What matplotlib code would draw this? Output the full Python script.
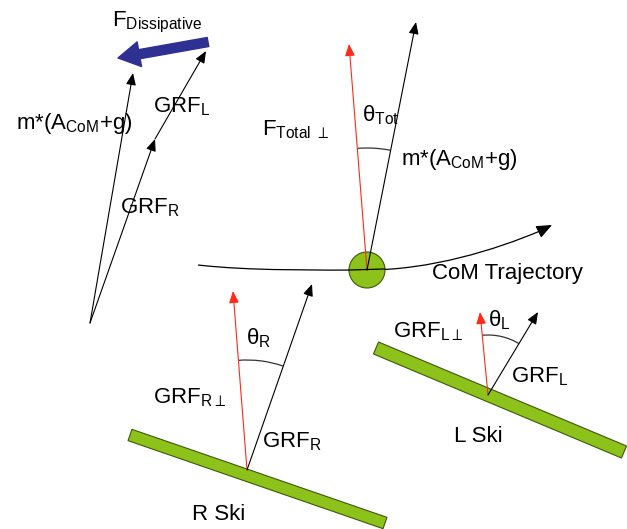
import numpy as np
import matplotlib.pyplot as plt
from matplotlib.patches import Polygon, Circle, Arc, PathPatch
from matplotlib.path import Path

plt.rcParams['font.family'] = ['Liberation Sans', 'DejaVu Sans']
plt.rcParams['mathtext.fontset'] = 'custom'
plt.rcParams['mathtext.rm'] = 'Liberation Sans'
plt.rcParams['mathtext.it'] = 'Liberation Sans'

# diagram geometry (pixel coordinates of the 627x529 picture, y down)
force_origin = (90, 323)
mg_tip_left = (133, 73)
grf_r_tip_left = (155, 139)
grf_l_tip_left = (206, 51)
dissip_tail = (208, 42)
dissip_head = (118, 58)

com_center = (367, 270)
com_radius = 18
total_perp_tip = (349, 44)
mg_tip_center = (416, 22)
# trajectory as two cubic bezier pieces: start, ctrl, ctrl, end, ctrl, ctrl, end
traj_pts = [(198, 265), (250, 271), (320, 270), (367, 270),
            (430, 270), (495, 250), (540, 231)]
traj_tip = (552, 225)

r_ski = [(130, 435), (385, 523)]
r_contact = (247, 470)
r_perp_tip = (233, 291)
r_grf_tip = (312, 284)

l_ski = [(376, 348), (624, 452)]
l_contact = (488, 395)
l_perp_tip = (480, 312)
l_grf_tip = (538, 312)

green = '#8cc21a'
red = '#ff2a1a'
blue = '#2e3192'

fig = plt.figure(figsize=(6.27, 5.29), dpi=100)
ax = fig.add_axes([0, 0, 1, 1])
ax.set_xlim(0, 627)
ax.set_ylim(529, 0)
ax.axis('off')


def arrow(p0, p1, color='k', lw=0.8, scale=12):
    ax.annotate('', xy=p1, xytext=p0,
                arrowprops=dict(arrowstyle='-|>,head_length=0.6,head_width=0.25',
                                color=color, lw=lw, shrinkA=0, shrinkB=0,
                                mutation_scale=scale))


def angle_arc(center, p_a, p_b, radius):
    a1 = np.degrees(np.arctan2(p_a[1] - center[1], p_a[0] - center[0]))
    a2 = np.degrees(np.arctan2(p_b[1] - center[1], p_b[0] - center[0]))
    lo, hi = sorted([a1, a2])
    ax.add_patch(Arc(center, 2 * radius, 2 * radius, theta1=lo, theta2=hi,
                     color='#333333', lw=0.9))


def ski(ends, width):
    (x0, y0), (x1, y1) = ends
    d = np.array([x1 - x0, y1 - y0], dtype=float)
    n = np.array([-d[1], d[0]]) / np.hypot(*d) * width / 2
    pts = [(x0 + n[0], y0 + n[1]), (x1 + n[0], y1 + n[1]),
           (x1 - n[0], y1 - n[1]), (x0 - n[0], y0 - n[1])]
    ax.add_patch(Polygon(pts, closed=True, fc=green, ec='#3d5a0a', lw=0.8, zorder=1))


fs = 16
mg_label = r'$\mathrm{m{*}(A_{CoM}{+}g)}$'

# top-left force triangle
arrow(force_origin, mg_tip_left)
arrow(force_origin, grf_r_tip_left)
arrow(grf_r_tip_left, grf_l_tip_left)
ax.annotate('', xy=dissip_head, xytext=dissip_tail,
            arrowprops=dict(arrowstyle='simple,head_length=1.3,head_width=1.5,tail_width=0.55',
                            color=blue, shrinkA=0, shrinkB=0, mutation_scale=12))

ax.text(112, 22, r'$\mathrm{F_{Dissipative}}$', fontsize=fs, va='center', ha='left')
ax.text(16, 123, mg_label, fontsize=fs, va='center', ha='left')
ax.text(153, 107, r'$\mathrm{GRF_L}$', fontsize=fs, va='center', ha='left')
ax.text(120, 208, r'$\mathrm{GRF_R}$', fontsize=fs, va='center', ha='left')

# CoM and trajectory
codes = [Path.MOVETO] + [Path.CURVE4] * 6
ax.add_patch(PathPatch(Path(traj_pts, codes), fc='none', ec='k', lw=0.9, zorder=2))
arrow(traj_pts[-1], traj_tip, scale=16)
ax.add_patch(Circle(com_center, com_radius, fc=green, ec='#3d5a0a', lw=0.8, zorder=3))
ax.plot([com_center[0] - com_radius, com_center[0] + com_radius],
        [com_center[1], com_center[1] - 1], color='k', lw=0.9, zorder=4)
arrow(com_center, total_perp_tip, color=red)
arrow(com_center, mg_tip_center)
angle_arc(com_center, total_perp_tip, mg_tip_center, 122)
ax.text(262, 130, r'$\mathrm{F_{Total\ \perp}}$', fontsize=fs, va='center', ha='left')
ax.text(362, 115, r'$\mathrm{\theta_{Tot}}$', fontsize=fs, va='center', ha='left')
ax.text(401, 160, mg_label, fontsize=fs, va='center', ha='left')
ax.text(432, 274, 'CoM Trajectory', fontsize=fs, va='center', ha='left')

# right ski
ski(r_ski, 12)
arrow(r_contact, r_perp_tip, color=red)
arrow(r_contact, r_grf_tip)
angle_arc(r_contact, r_perp_tip, r_grf_tip, 110)
ax.text(246, 338, r'$\mathrm{\theta_R}$', fontsize=fs, va='center', ha='left')
ax.text(153, 398, r'$\mathrm{GRF_{R\perp}}$', fontsize=fs, va='center', ha='left')
ax.text(262, 442, r'$\mathrm{GRF_R}$', fontsize=fs, va='center', ha='left')
ax.text(192, 515, 'R Ski', fontsize=fs, va='center', ha='left')

# left ski
ski(l_ski, 13)
arrow(l_contact, l_perp_tip, color=red)
arrow(l_contact, l_grf_tip)
angle_arc(l_contact, l_perp_tip, l_grf_tip, 60)
ax.text(488, 320, r'$\mathrm{\theta_L}$', fontsize=fs, va='center', ha='left')
ax.text(393, 332, r'$\mathrm{GRF_{L\perp}}$', fontsize=fs, va='center', ha='left')
ax.text(511, 377, r'$\mathrm{GRF_L}$', fontsize=fs, va='center', ha='left')
ax.text(454, 437, 'L Ski', fontsize=fs, va='center', ha='left')

fig.savefig('out.png', dpi=100)
